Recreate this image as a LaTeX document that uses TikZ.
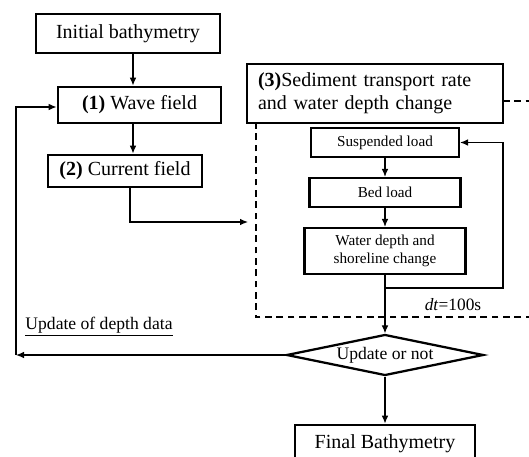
\documentclass[tikz,border=0pt]{standalone}
\usepackage{fontspec}
\setmainfont{Liberation Serif}
\usetikzlibrary{shapes.geometric,arrows.meta}

\begin{document}
\begin{tikzpicture}[x=0.75pt,y=-0.75pt,
  bigbox/.style={draw,line width=2.1pt,font=\fontsize{15}{17.25}\selectfont,inner sep=0pt},
  smallbox/.style={draw,line width=1.6pt,font=\fontsize{11.4}{13.5}\selectfont,inner sep=0pt},
  arr/.style={-{Latex[length=6pt,width=5pt]},line width=0.9pt},
  loopline/.style={line width=1.6pt,dash pattern=on 5pt off 3.5pt}]
  % Frame
  \clip (0,0) rectangle (529,457);
  % Main chain (left)
  \node[bigbox,minimum width=138pt,minimum height=29.25pt] (init) at (128,33.5) {Initial bathymetry};
  \node[bigbox,minimum width=122.25pt,minimum height=27pt] (wave) at (139.5,105) {\textbf{(1)} Wave field};
  \node[bigbox,minimum width=115.5pt,minimum height=24pt] (current) at (125,171) {\textbf{(2)} Current field};
  \coordinate (ax) at (133,0);
  \draw[arr] (init.south -| ax) -- (wave.north -| ax);
  \draw[arr] (wave.south -| ax) -- (current.north -| ax);
  % Sediment block
  \node[bigbox,minimum width=192pt,minimum height=44.25pt,text width=175.5pt,align=left] (sed) at (375,93.5)
    {\textbf{(3)}Sediment transport rate\\and water depth change};
  \node[smallbox,minimum width=111pt,minimum height=21.75pt] (susp) at (385,142.5) {Suspended load};
  \node[smallbox,minimum width=113.25pt,minimum height=21.75pt] (bed) at (385,192.5) {Bed load};
  \node[smallbox,minimum width=120.75pt,minimum height=34.5pt,align=center,font=\fontsize{11.4}{13.5}\selectfont] (depth) at (385,251)
    {Water depth and\\shoreline change};
  \draw[arr] (susp) -- (bed);
  \draw[arr] (bed) -- (depth);
  % Dashed frame of block (3)
  \coordinate (dtop) at (503,101);
  \coordinate (dbr) at (540,317);
  \coordinate (dbl) at (256,317);
  \draw[loopline] (dtop) -- (dtop -| dbr) -- (dbr) -- (dbl) -- (dbl |- sed.south);
  % Current field into block (3)
  \coordinate (cx) at (130,0);
  \coordinate (cin) at (248,222);
  \draw[arr] (current.south -| cx) |- (cin);
  % Time step loop
  \coordinate (lp) at (503,288);
  \draw[arr] (depth.south) -- (depth.south |- lp) -- (lp) |- (susp.east);
  \node[font=\fontsize{13}{15}\selectfont] (dt) at (453,305) {\textit{dt}=100s};
  % Decision
  \node[draw,diamond,line width=1.7pt,inner sep=0pt,aspect=4.8,minimum width=147.75pt,minimum height=30.75pt,
    font=\fontsize{13.2}{15}\selectfont] (dia) at (385,355) {Update or not};
  \draw[arr] (depth.south) -- (dia.north);
  \node[bigbox,minimum width=135pt,minimum height=28.5pt] (final) at (385,444) {Final Bathymetry};
  \draw[arr] (dia.south) -- (final.north);
  % Feedback to wave field
  \coordinate (lb) at (16,355);
  \coordinate (lt) at (16,107);
  \draw[arr] (dia.west) -- (lb);
  \draw[arr] (lb) -- (lt) -- (lt -| wave.west);
  \node[font=\fontsize{13.2}{15}\selectfont] (upd) at (99,327) {\underline{Update of depth data}};
\end{tikzpicture}
\end{document}
